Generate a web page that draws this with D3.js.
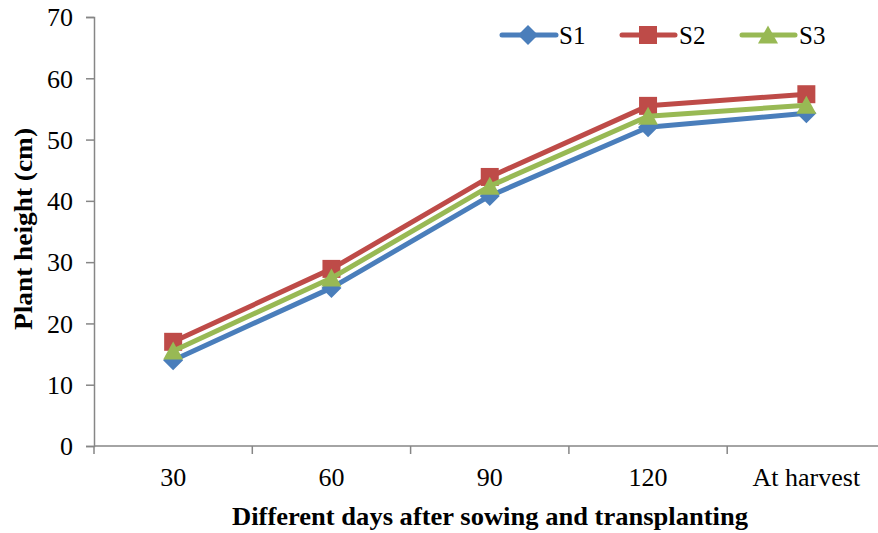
<!DOCTYPE html>
<html>
<head>
<meta charset="utf-8">
<script src="https://cdn.jsdelivr.net/npm/d3@7"></script>
<style>
  html, body { margin: 0; padding: 0; background: #fff; }
  svg { display: block; }
  text { font-family: "Liberation Serif", "Times New Roman", serif; fill: #000; }
</style>
</head>
<body>
<svg id="chart" width="878" height="533"></svg>
<script>
// Plant height (cm) at different days after sowing and transplanting
const categories = ["30", "60", "90", "120", "At harvest"];
const seriesNames = ["S1", "S2", "S3"];
const s1 = [14.0, 25.8, 40.8, 52.0, 54.3];
const s2 = [17.0, 28.9, 43.9, 55.5, 57.4];
const s3 = [15.5, 27.4, 42.4, 53.8, 55.6];
const yTicks = [0, 10, 20, 30, 40, 50, 60, 70];
const colors = ["#4A7EBB", "#BE4B48", "#98B954"];

// Marker shapes drawn around (0,0)
const markerPaths = {
  diamond: "M0,-10L10,0L0,10L-10,0Z",
  square: "M-9,-9L9,-9L9,9L-9,9Z",
  triangle: "M0,-9.5L10,8.5L-10,8.5Z"
};
const markerTypes = ["diamond", "square", "triangle"];

const series = [s1, s2, s3].map((values, i) => ({ name: seriesNames[i], values, color: colors[i], marker: markerPaths[markerTypes[i]] }));

const svg = d3.select("#chart");
const margin = { left: 94, top: 17, bottom: 446 };
const xRight = 885.5;

const x = d3.scaleBand().domain(categories).range([margin.left, xRight]).paddingInner(0).paddingOuter(0);
const y = d3.scaleLinear().domain([0, 70]).range([margin.bottom, margin.top]);

const axisColor = "#868686";

// Y axis
const yAxis = svg.append("g")
  .attr("transform", `translate(${margin.left},0)`)
  .call(d3.axisLeft(y).tickValues(yTicks).tickSize(8).tickPadding(13).tickFormat(d3.format("d")));
yAxis.attr("font-family", null);
yAxis.select(".domain").attr("stroke", axisColor).attr("stroke-width", 1.5);
yAxis.selectAll(".tick line").attr("stroke", axisColor).attr("stroke-width", 1.5);
yAxis.selectAll(".tick text").style("font-size", "26px").attr("dy", "0.34em");

// X axis with tick marks at category boundaries
const xAxisG = svg.append("g").attr("transform", `translate(0,${margin.bottom})`);
xAxisG.append("line")
  .attr("x1", margin.left).attr("x2", xRight)
  .attr("stroke", axisColor).attr("stroke-width", 1.5);
const boundaries = categories.map(c => x(c)).concat([xRight]);
xAxisG.selectAll("line.tick").data(boundaries).join("line")
  .attr("class", "tick")
  .attr("x1", d => d).attr("x2", d => d)
  .attr("y1", 0).attr("y2", 8)
  .attr("stroke", axisColor).attr("stroke-width", 1.5);
xAxisG.selectAll("text").data(categories).join("text")
  .attr("x", d => x(d) + x.bandwidth() / 2)
  .attr("y", 40)
  .attr("text-anchor", "middle")
  .style("font-size", "26px")
  .text(d => d);

// Axis titles
svg.append("text")
  .attr("transform", `translate(32,229) rotate(-90)`)
  .attr("text-anchor", "middle")
  .attr("textLength", 202)
  .attr("lengthAdjust", "spacingAndGlyphs")
  .style("font-size", "25px").style("font-weight", "bold")
  .text("Plant height (cm)");
svg.append("text")
  .attr("x", 490).attr("y", 525)
  .attr("text-anchor", "middle")
  .attr("textLength", 516)
  .attr("lengthAdjust", "spacingAndGlyphs")
  .style("font-size", "25px").style("font-weight", "bold")
  .text("Different days after sowing and transplanting");

// Lines and markers
const cx = c => x(c) + x.bandwidth() / 2;
const line = d3.line().x((d, i) => cx(categories[i])).y(d => y(d));

series.forEach(s => {
  const g = svg.append("g");
  g.append("path")
    .attr("d", line(s.values))
    .attr("fill", "none")
    .attr("stroke", s.color)
    .attr("stroke-width", 5)
    .attr("stroke-linejoin", "round")
    .attr("stroke-linecap", "round");
  g.selectAll("path.m").data(s.values).join("path")
    .attr("class", "m")
    .attr("transform", (d, i) => `translate(${cx(categories[i])},${y(d)})`)
    .attr("d", s.marker)
    .attr("fill", s.color);
});

// Legend
const legendItems = [
  { x0: 502, x1: 556, mx: 528, tx: 559 },
  { x0: 622, x1: 675, mx: 648, tx: 679 },
  { x0: 742, x1: 795, mx: 768, tx: 799 }
];
const legendY = 35;
series.forEach((s, i) => {
  const it = legendItems[i];
  const g = svg.append("g");
  g.append("line")
    .attr("x1", it.x0).attr("x2", it.x1)
    .attr("y1", legendY).attr("y2", legendY)
    .attr("stroke", s.color).attr("stroke-width", 5)
    .attr("stroke-linecap", "round");
  g.append("path")
    .attr("transform", `translate(${it.mx},${legendY})`)
    .attr("d", s.marker)
    .attr("fill", s.color);
  g.append("text")
    .attr("x", it.tx).attr("y", legendY)
    .attr("dy", "0.35em")
    .style("font-size", "25px")
    .text(s.name);
});
</script>
</body>
</html>
